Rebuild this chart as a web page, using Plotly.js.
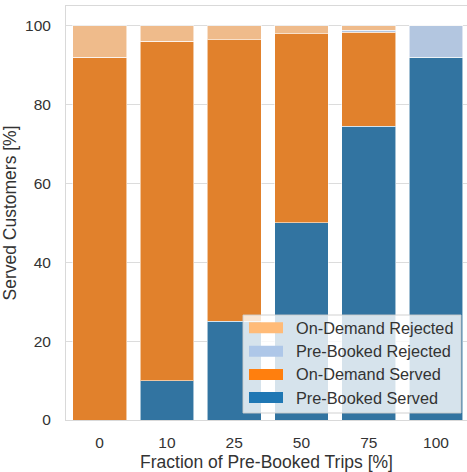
<!DOCTYPE html>
<html><head><meta charset="utf-8">
<script src="https://cdn.plot.ly/plotly-3.0.1.min.js"></script>
<style>html,body{margin:0;padding:0;background:#fff}#chart{width:467px;height:472px}</style>
</head><body><div id="chart"></div>
<script>
// Data
const categories = ['0', '10', '25', '50', '75', '100'];
const preBookedServed = [0, 10, 25, 50, 74.5, 92];
const onDemandServed = [92, 86, 71.5, 48, 23.8, 0];
const preBookedRejected = [0, 0, 0, 0, 0.5, 8];
const onDemandRejected = [8, 4, 3.5, 2, 1.2, 0];
const legendLabels = ['On-Demand Rejected', 'Pre-Booked Rejected', 'On-Demand Served', 'Pre-Booked Served'];
const yTicks = [0, 20, 40, 60, 80, 100];

// Styles
const barColors = {pbs: '#3274a1', ods: '#e1812c', pbr: '#b3c6e0', odr: '#efbb8b'};
const legendColors = ['#ffbb78', '#aec7e8', '#ff7f0e', '#1f77b4'];
const edge = {color: 'rgba(255,255,255,0.55)', width: 1};
const font = 'Liberation Sans, Arial, sans-serif';

function bar(y, color) {
  return {type: 'bar', x: categories, y: y, marker: {color: color, line: edge},
          showlegend: false, hoverinfo: 'skip'};
}
const traces = [
  bar(preBookedServed, barColors.pbs),
  bar(onDemandServed, barColors.ods),
  bar(preBookedRejected, barColors.pbr),
  bar(onDemandRejected, barColors.odr)
];

// layout geometry (pixels)
const W = 467, H = 472, mL = 66, mR = 0, mT = 6, mB = 52;
const pw = W - mL - mR, ph = H - mT - mB;
const px = x => (x - mL) / pw;
const py = y => (H - mB - y) / ph;

const shapes = [];
const annotations = [];
// custom legend box
shapes.push({type: 'rect', xref: 'paper', yref: 'paper', x0: px(243), x1: px(461), y0: py(413), y1: py(315),
  fillcolor: 'rgba(255,255,255,0.8)', line: {color: 'rgba(204,204,204,0.9)', width: 1}, layer: 'above'});
const rowY = [327.7, 351.2, 374.4, 397.6];
legendLabels.forEach((lab, i) => {
  shapes.push({type: 'rect', xref: 'paper', yref: 'paper', x0: px(249), x1: px(283),
    y0: py(rowY[i] + 5.5), y1: py(rowY[i] - 5.5), fillcolor: legendColors[i], line: {width: 0}, layer: 'above'});
  annotations.push({xref: 'paper', yref: 'paper', x: px(294), y: py(rowY[i]), xanchor: 'left', yanchor: 'middle',
    text: lab, showarrow: false, font: {family: font, size: 16.3, color: '#333'}});
});

const layout = {
  width: W, height: H,
  margin: {l: mL, r: mR, t: mT, b: mB, pad: 0},
  paper_bgcolor: '#fff', plot_bgcolor: '#fff',
  barmode: 'stack', bargap: 0.2,
  font: {family: font, color: '#333'},
  showlegend: false,
  xaxis: {type: 'category', range: [-0.5, 5.46], showgrid: false, zeroline: false,
    showline: true, linecolor: '#d9d9d9', linewidth: 1, mirror: true,
    ticks: '', ticklabelstandoff: 8, tickfont: {size: 15.5, color: '#333'},
    title: {text: 'Fraction of Pre-Booked Trips [%]', font: {size: 17.5, color: '#333'}, standoff: 6}},
  yaxis: {range: [0, 105], tickvals: yTicks, showgrid: true, gridcolor: '#dcdcdc', gridwidth: 1, zeroline: false,
    showline: true, linecolor: '#d9d9d9', linewidth: 1, mirror: true,
    ticks: '', ticklabelstandoff: 11, tickfont: {size: 15.5, color: '#333'},
    title: {text: 'Served Customers [%]', font: {size: 17.5, color: '#333'}, standoff: 7}},
  shapes: shapes, annotations: annotations
};
Plotly.newPlot('chart', traces, layout, {displayModeBar: false, staticPlot: true});
</script></body></html>
